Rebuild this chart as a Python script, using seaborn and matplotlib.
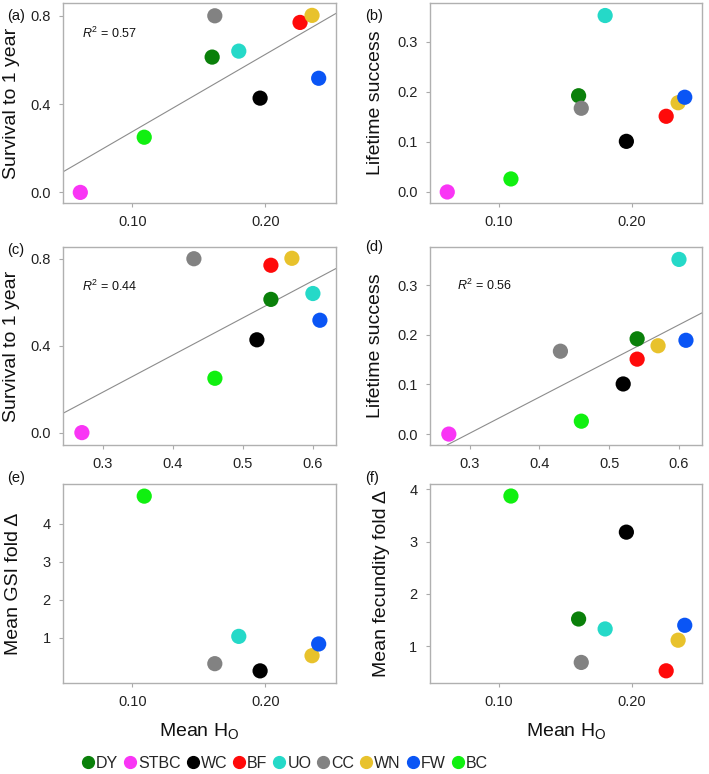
import numpy as np
import pandas as pd
import matplotlib.pyplot as plt
from matplotlib.lines import Line2D
import seaborn as sns

# populations and colours
pops = ["DY", "STBC", "WC", "BF", "UO", "CC", "WN", "FW", "BC"]
colors = ["#0a800a", "#f935f5", "#000000", "#ff0a0a", "#25d9c8",
          "#828282", "#e8c22c", "#0a55f5", "#10f010"]

# mean heterozygosity (two estimates)
ho_1 = [0.160, 0.061, 0.196, 0.226, 0.180, 0.162, 0.235, 0.240, 0.109]
ho_2 = [0.540, 0.270, 0.520, 0.540, 0.600, 0.430, 0.570, 0.610, 0.460]

# fitness measures
survival = [0.613, 0.000, 0.427, 0.770, 0.640, 0.800, 0.802, 0.517, 0.250]
lifetime = [0.192, 0.000, 0.101, 0.151, 0.352, 0.167, 0.178, 0.189, 0.026]
gsi_fold = [np.nan, np.nan, 0.12, np.nan, 1.03, 0.31, 0.52, 0.83, 4.73]
fec_fold = [1.52, np.nan, 3.18, 0.53, 1.33, 0.69, 1.115, 1.40, 3.87]

df = pd.DataFrame({"pop": pops, "ho1": ho_1, "ho2": ho_2, "surv": survival,
                   "life": lifetime, "gsi": gsi_fold, "fec": fec_fold})
pal = dict(zip(pops, colors))

sns.set_style("ticks")
plt.rcParams["font.family"] = ["Liberation Sans", "DejaVu Sans"]
plt.rcParams["mathtext.fontset"] = "custom"
plt.rcParams["mathtext.rm"] = "Liberation Sans"
plt.rcParams["mathtext.it"] = "Liberation Sans:italic"

fig = plt.figure(figsize=(7.09, 7.74), dpi=100)

W, H = 709, 774
def add_ax(l, r, t, b):
    return fig.add_axes([l / W, 1 - b / H, (r - l) / W, (b - t) / H])

cols = [(63, 336), (430, 702)]
rows = [(3, 203), (247, 445), (484, 683)]

panels = [
    ("ho1", "surv", "Survival to 1 year", (0.048, 0.253), (-0.048, 0.858),
     [0.10, 0.20], ["0.10", "0.20"], [0.0, 0.4, 0.8], ["0.0", "0.4", "0.8"], "0.57", (0.068, 0.847)),
    ("ho1", "life", "Lifetime success", (0.048, 0.253), (-0.022, 0.377),
     [0.10, 0.20], ["0.10", "0.20"], [0.0, 0.1, 0.2, 0.3], ["0.0", "0.1", "0.2", "0.3"], None, None),
    ("ho2", "surv", "Survival to 1 year", (0.243, 0.633), (-0.057, 0.854),
     [0.3, 0.4, 0.5, 0.6], ["0.3", "0.4", "0.5", "0.6"], [0.0, 0.4, 0.8], ["0.0", "0.4", "0.8"], "0.44", (0.068, 0.80)),
    ("ho2", "life", "Lifetime success", (0.243, 0.633), (-0.022, 0.377),
     [0.3, 0.4, 0.5, 0.6], ["0.3", "0.4", "0.5", "0.6"], [0.0, 0.1, 0.2, 0.3], ["0.0", "0.1", "0.2", "0.3"], "0.56", (0.098, 0.804)),
    ("ho1", "gsi", "Mean GSI fold \u0394", (0.048, 0.253), (-0.2, 5.05),
     [0.10, 0.20], ["0.10", "0.20"], [1, 2, 3, 4], ["1", "2", "3", "4"], None, None),
    ("ho1", "fec", "Mean fecundity fold \u0394", (0.048, 0.253), (0.297, 4.10),
     [0.10, 0.20], ["0.10", "0.20"], [1, 2, 3, 4], ["1", "2", "3", "4"], None, None),
]
letters = ["(a)", "(b)", "(c)", "(d)", "(e)", "(f)"]
label_x = [-0.188, -0.199, -0.19, -0.199, -0.183, -0.178]
letter_pos = [(7, 16), (365, 16), (7, 250), (365, 247), (7, 478), (365, 478)]

for i, (xc, yc, ylab, xl, yl, xt, xtl, yt, ytl, r2, r2pos) in enumerate(panels):
    r, c = divmod(i, 2)
    ax = add_ax(cols[c][0], cols[c][1], rows[r][0], rows[r][1])
    ax.set_xlim(*xl)
    ax.set_ylim(*yl)
    if r2 is not None:
        sub = df[[xc, yc]].dropna()
        slope, icpt = np.polyfit(sub[xc], sub[yc], 1)
        ax.axline((0, icpt), slope=slope, color="#8c8c8c", lw=0.8, zorder=1)
        ax.text(r2pos[0], r2pos[1], "$R^2$ = " + r2, transform=ax.transAxes,
                fontsize=9, va="center", ha="left", color="#111111")
    sns.scatterplot(data=df, x=xc, y=yc, hue="pop", palette=pal, s=120,
                    edgecolor="none", legend=False, ax=ax, zorder=3)
    ax.set_xticks(xt)
    ax.set_xticklabels(xtl)
    ax.set_yticks(yt)
    ax.set_yticklabels(ytl)
    ax.tick_params(length=3, width=0.8, color="#aaaaaa", labelsize=10.5,
                   labelcolor="#222222", pad=6)
    for sp in ax.spines.values():
        sp.set_color("#b0b0b0")
        sp.set_linewidth(1.0)
    ax.set_ylabel(ylab, fontsize=14, va="center", color="#111111")
    ax.yaxis.set_label_coords(label_x[i], 0.5)
    if r == 2:
        ax.set_xlabel("Mean H$_\\mathregular{O}$", fontsize=14, color="#111111", labelpad=8)
    else:
        ax.set_xlabel("")
    fig.text(letter_pos[i][0] / W, 1 - letter_pos[i][1] / H, letters[i],
             fontsize=10.5, va="center", ha="left", color="#111111")

handles = [Line2D([], [], marker="o", ls="", color=col, markersize=8.5)
           for col in colors]
fig.legend(handles, pops, loc="center", bbox_to_anchor=(285 / W, 1 - 763 / H),
           ncol=9, frameon=False, fontsize=11.5, handletextpad=0.15,
           columnspacing=0.4, handlelength=0.7, borderpad=0)

fig.savefig("out.png", dpi=100)
